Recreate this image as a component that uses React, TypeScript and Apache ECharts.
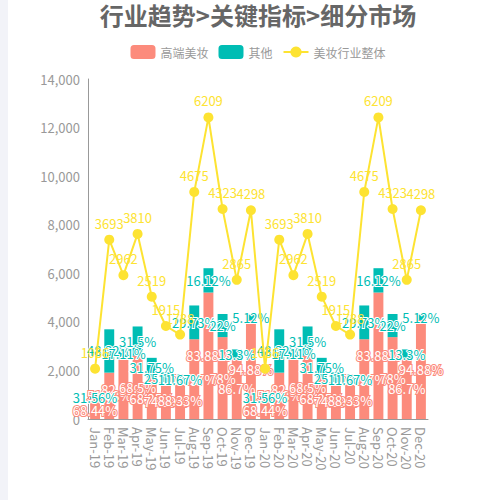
import React, { useEffect, useRef } from "react";
import * as echarts from "echarts";

const categories = [
  "Jan-19", "Feb-19", "Mar-19", "Apr-19", "May-19", "Jun-19", "Jul-19", "Aug-19", "Sep-19", "Oct-19", "Nov-19", "Dec-19",
  "Jan-20", "Feb-20", "Mar-20", "Apr-20", "May-20", "Jun-20", "Jul-20", "Aug-20", "Sep-20", "Oct-20", "Nov-20", "Dec-20",
];

// 美妆行业整体 (total)
const totals = [
  1036, 3693, 2962, 3810, 2519, 1915, 1738, 4675, 6209, 4323, 2865, 4298,
  1036, 3693, 2962, 3810, 2519, 1915, 1738, 4675, 6209, 4323, 2865, 4298,
];

// 高端美妆
const highEnd = [
  709, 1909, 2455, 2610, 1719, 1434, 1535, 3285, 5208, 3372, 2484, 4078,
  709, 1909, 2455, 2610, 1719, 1434, 1535, 3285, 5208, 3372, 2484, 4078,
];

// 其他
const others = [
  327, 1784, 507, 1200, 800, 481, 203, 1390, 1001, 951, 381, 220,
  327, 1784, 507, 1200, 800, 481, 203, 1390, 1001, 951, 381, 220,
];

const highEndPct = [
  "68.44%", "51.68%", "82.89%", "68.5%", "68.25%", "74.89%", "88.33%", "70.27%", "83.88%", "78%", "86.7%", "94.88%",
  "68.44%", "51.68%", "82.89%", "68.5%", "68.25%", "74.89%", "88.33%", "70.27%", "83.88%", "78%", "86.7%", "94.88%",
];

const othersPct = [
  "31.56%", "48.32%", "17.11%", "31.5%", "31.75%", "25.11%", "11.67%", "29.73%", "16.12%", "22%", "13.3%", "5.12%",
  "31.56%", "48.32%", "17.11%", "31.5%", "31.75%", "25.11%", "11.67%", "29.73%", "16.12%", "22%", "13.3%", "5.12%",
];

const yTicks = { min: 0, max: 14000, interval: 2000 };

const CORAL = "#fc8b7c";
const TEAL = "#00bdb4";
const YELLOW = "#fde332";
const FONT = "'Noto Sans CJK SC', 'Noto Sans', sans-serif";

export default function App() {
  const ref = useRef<HTMLDivElement>(null);
  useEffect(() => {
    if (!ref.current) return;
    const chart = echarts.init(ref.current, null, { renderer: "svg" });
    chart.setOption({
      animation: false,
      textStyle: { fontFamily: FONT },
      title: {
        text: "行业趋势>关键指标>细分市场",
        left: "center",
        top: 2,
        padding: 0,
        textStyle: { fontSize: 24, fontWeight: "bold", color: "#666", fontFamily: FONT },
      },
      legend: {
        top: 40,
        left: "center",
        itemGap: 10,
        itemWidth: 25,
        itemHeight: 14,
        textStyle: { color: "#999", fontSize: 12, fontFamily: FONT },
        data: ["高端美妆", "其他", "美妆行业整体"],
      },
      grid: { left: 80, right: 80, top: 79, bottom: 81, containLabel: false },
      xAxis: {
        type: "category",
        data: categories,
        axisLine: { show: true, lineStyle: { color: "#999" } },
        axisTick: { show: false },
        axisLabel: { rotate: -90, interval: 0, color: "#999", fontSize: 13, margin: 8, fontFamily: FONT },
      },
      yAxis: {
        type: "value",
        min: yTicks.min,
        max: yTicks.max,
        interval: yTicks.interval,
        axisLine: { show: true, lineStyle: { color: "#999" } },
        axisTick: { show: false },
        splitLine: { show: false },
        axisLabel: { color: "#999", fontSize: 13, fontFamily: FONT },
      },
      series: [
        {
          name: "高端美妆",
          type: "bar",
          stack: "total",
          barCategoryGap: "30%",
          data: highEnd,
          itemStyle: { color: CORAL },
          label: {
            show: true,
            position: "inside",
            formatter: (p: any) => highEndPct[p.dataIndex],
            color: "#fff",
            textBorderColor: CORAL,
            textBorderWidth: 2,
            fontSize: 13,
            fontFamily: FONT,
          },
        },
        {
          name: "其他",
          type: "bar",
          stack: "total",
          barCategoryGap: "30%",
          data: others,
          itemStyle: { color: TEAL },
          label: {
            show: true,
            position: "inside",
            formatter: (p: any) => othersPct[p.dataIndex],
            color: TEAL,
            textBorderColor: "#fff",
            textBorderWidth: 2,
            fontSize: 13,
            fontFamily: FONT,
          },
        },
        {
          name: "美妆行业整体",
          type: "line",
          stack: "total",
          data: totals,
          symbol: "circle",
          symbolSize: 10,
          itemStyle: { color: YELLOW },
          lineStyle: { color: YELLOW, width: 2 },
          label: {
            show: true,
            position: "top",
            color: YELLOW,
            fontSize: 13,
            fontFamily: FONT,
          },
        },
      ],
    });
    return () => chart.dispose();
  }, []);
  return (
    <div
      style={{
        position: "fixed",
        left: 0,
        top: 0,
        width: 500,
        height: 500,
        overflow: "hidden",
        background: "#f2f3f8",
      }}
    >
      <div
        ref={ref}
        style={{ position: "absolute", left: 8, top: 0, width: 500, height: 500, background: "#fff" }}
      />
    </div>
  );
}
